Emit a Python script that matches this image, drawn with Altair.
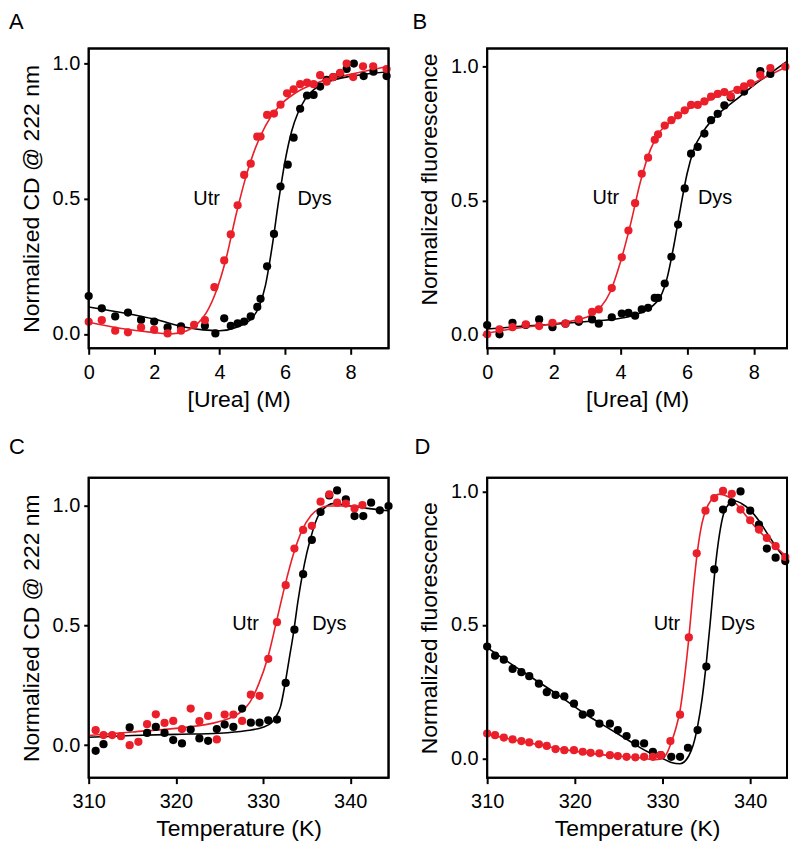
import altair as alt
import pandas as pd

# ---------------- Panel A : CD vs urea ----------------
A_dys_x = [0, 0.4, 0.81, 1.2, 1.6, 2.0, 2.41, 2.82, 3.55, 3.87, 4.14, 4.34, 4.55, 4.75, 4.95, 5.15, 5.25, 5.45,
           5.66, 5.86, 6.08, 6.26, 6.46, 6.67, 6.87, 7.07, 7.27, 7.47, 7.68, 7.88, 8.1, 8.4, 8.7, 9.1]
A_dys_y = [0.14, 0.095, 0.065, 0.079, 0.052, 0.046, 0.024, 0.028, 0.03, 0.002, 0.058, 0.03, 0.039, 0.046, 0.065,
           0.10, 0.13, 0.25, 0.37, 0.545, 0.626, 0.726, 0.833, 0.882, 0.884, 0.915, 0.94, 0.95, 0.963, 0.98, 1.0,
           0.954, 0.97, 0.954]
A_utr_x = [0, 0.4, 0.81, 1.2, 1.6, 2.0, 2.41, 2.82, 3.22, 3.55, 3.84, 4.14, 4.34, 4.55, 4.75, 4.95, 5.15, 5.25,
           5.45, 5.66, 5.86, 6.06, 6.26, 6.46, 6.67, 6.87, 7.07, 7.27, 7.47, 7.68, 7.88, 8.08, 8.38, 8.69, 9.1]
A_utr_y = [0.045, 0.051, 0.012, 0.006, 0.024, 0.016, 0.002, 0.012, 0.034, 0.051, 0.173, 0.272, 0.368, 0.476,
           0.588, 0.63, 0.73, 0.73, 0.81, 0.815, 0.848, 0.89, 0.905, 0.924, 0.93, 0.924, 0.957, 0.933, 0.95, 0.966,
           1.0, 0.95, 0.99, 0.99, 0.98]
A_dys_fit_x = [0, 2, 3, 3.5, 4.0, 4.5, 5.0, 5.2, 5.4, 5.6, 5.8, 6.0, 6.2, 6.4, 6.6, 7.0, 7.5, 8.0, 9.16]
A_dys_fit_y = [0.10, 0.055, 0.024, 0.015, 0.012, 0.024, 0.06, 0.10, 0.18, 0.32, 0.49, 0.64, 0.75, 0.82, 0.866,
               0.915, 0.94, 0.953, 0.97]
A_utr_fit_x = [0, 1, 2, 2.5, 3.0, 3.3, 3.6, 3.9, 4.2, 4.5, 4.8, 5.1, 5.4, 5.8, 6.3, 7.0, 8.0, 9.16]
A_utr_fit_y = [0.043, 0.02, 0.005, 0.0, 0.012, 0.035, 0.08, 0.16, 0.28, 0.44, 0.58, 0.69, 0.77, 0.84, 0.89, 0.93,
               0.96, 0.99]

# ---------------- Panel B : fluorescence vs urea ----------------
B_dys_x = [0, 0.37, 0.76, 1.16, 1.56, 1.96, 2.35, 2.75, 3.15, 3.35, 3.74, 4.04, 4.24, 4.44, 4.64, 4.83, 5.03,
           5.13, 5.33, 5.53, 5.73, 5.93, 6.12, 6.32, 6.52, 6.72, 6.92, 7.12, 7.31, 7.71, 8.2, 8.5]
B_dys_y = [0.035, 0.0, 0.043, 0.035, 0.056, 0.027, 0.04, 0.047, 0.056, 0.04, 0.064, 0.078, 0.08, 0.07, 0.093,
           0.099, 0.136, 0.136, 0.19, 0.29, 0.41, 0.545, 0.675, 0.70, 0.75, 0.80, 0.824, 0.855, 0.885, 0.907, 0.983,
           0.973]
B_utr_x = [0, 0.37, 0.76, 1.16, 1.56, 1.96, 2.35, 2.75, 3.15, 3.35, 3.74, 4.04, 4.24, 4.44, 4.64, 4.83, 5.03,
           5.13, 5.33, 5.53, 5.73, 5.93, 6.12, 6.32, 6.52, 6.72, 6.92, 7.12, 7.31, 7.51, 7.71, 7.91, 8.2, 8.5, 8.95]
B_utr_y = [0.0, 0.019, 0.027, 0.037, 0.031, 0.043, 0.04, 0.056, 0.084, 0.093, 0.173, 0.288, 0.388, 0.49, 0.60,
           0.66, 0.727, 0.747, 0.78, 0.80, 0.818, 0.837, 0.857, 0.857, 0.87, 0.888, 0.898, 0.905, 0.89, 0.913,
           0.926, 0.938, 0.969, 0.995, 1.0]
B_dys_fit_x = [0, 1, 2, 3, 4, 4.5, 5.0, 5.2, 5.4, 5.6, 5.8, 6.0, 6.2, 6.5, 7.0, 7.5, 8.0, 8.5, 9.0]
B_dys_fit_y = [0.02, 0.03, 0.038, 0.048, 0.06, 0.075, 0.11, 0.14, 0.21, 0.33, 0.47, 0.60, 0.69, 0.76, 0.83, 0.88,
               0.93, 0.975, 1.02]
B_utr_fit_x = [0, 1, 2, 3, 3.4, 3.7, 4.0, 4.3, 4.6, 4.9, 5.2, 5.6, 6.0, 6.5, 7.0, 7.5, 8.0, 8.5, 9.0]
B_utr_fit_y = [0.005, 0.025, 0.04, 0.065, 0.10, 0.16, 0.27, 0.41, 0.57, 0.69, 0.76, 0.80, 0.84, 0.865, 0.895,
               0.915, 0.94, 0.97, 1.0]

# ---------------- Panel C : CD vs temperature ----------------
C_dys_x = [310.8, 311.7, 314.7, 316.7, 317.7, 318.7, 319.7, 320.7, 321.7, 322.7, 323.7, 324.7, 325.6, 326.6,
           327.6, 328.6, 329.6, 330.6, 331.6, 332.6, 333.6, 334.6, 335.6, 336.6, 337.6, 338.5, 339.5, 340.5,
           341.5, 342.4, 343.4, 344.4]
C_dys_y = [-0.024, 0.004, 0.074, 0.051, 0.076, 0.051, 0.021, 0.007, 0.065, 0.028, 0.018, 0.067, 0.086, 0.076,
           0.153, 0.094, 0.094, 0.104, 0.107, 0.26, 0.483, 0.715, 0.858, 0.975, 1.044, 1.065, 1.028, 0.958, 0.958,
           1.014, 0.982, 1.0]
C_utr_x = [310.8, 311.7, 312.7, 313.7, 314.7, 315.7, 316.7, 317.7, 318.7, 319.7, 320.7, 321.7, 322.7, 323.7,
           324.7, 325.6, 326.6, 327.6, 328.6, 329.6, 330.6, 331.6, 332.6, 333.6, 334.6, 335.6, 336.6, 337.6,
           338.5, 339.5, 340.5, 341.4]
C_utr_y = [0.0625, 0.042, 0.042, 0.0375, 0.0, 0.014, 0.0875, 0.129, 0.093, 0.101, 0.067, 0.153, 0.1, 0.122,
           0.024, 0.128, 0.128, 0.101, 0.211, 0.206, 0.361, 0.514, 0.669, 0.822, 0.9, 0.917, 1.018, 1.049, 1.014,
           1.01, 0.99, 1.004]
C_dys_fit_x = [310, 315, 320, 325, 328, 330, 331, 331.5, 332, 332.5, 333, 333.5, 334, 334.5, 335, 335.5, 336,
               336.5, 337, 338, 340, 342, 344.4]
C_dys_fit_y = [0.033, 0.04, 0.045, 0.05, 0.06, 0.075, 0.095, 0.12, 0.16, 0.25, 0.36, 0.47, 0.6, 0.71, 0.8, 0.87,
               0.93, 0.97, 0.99, 1.01, 1.0, 0.99, 0.98]
C_utr_fit_x = [310, 315, 320, 324, 326, 327.5, 328.5, 329.5, 330.5, 331.5, 332.5, 333.5, 334.5, 335.5, 336.5,
               337.5, 339, 341.4]
C_utr_fit_y = [0.04, 0.055, 0.07, 0.09, 0.11, 0.14, 0.18, 0.255, 0.36, 0.51, 0.665, 0.8, 0.9, 0.96, 0.99, 1.0,
               1.0, 1.0]

# ---------------- Panel D : fluorescence vs temperature ----------------
D_dys_x = [310, 310.9, 311.9, 312.9, 313.9, 314.8, 315.9, 316.8, 317.8, 318.8, 319.9, 320.9, 321.8, 322.8, 324.0,
           324.9, 325.9, 326.9, 327.9, 328.9, 329.8, 331.0, 332.0, 332.9, 334.0, 335.0, 335.9, 336.9, 337.9,
           338.9, 340.0, 341.0, 341.9, 342.9, 344.0]
D_dys_y = [0.419, 0.385, 0.37, 0.335, 0.323, 0.308, 0.28, 0.248, 0.238, 0.232, 0.205, 0.164, 0.17, 0.13, 0.13,
           0.106, 0.084, 0.056, 0.056, 0.025, 0.012, 0.006, 0.006, 0.04, 0.106, 0.344, 0.708, 0.932, 0.959, 1.0,
           0.928, 0.876, 0.786, 0.752, 0.739]
D_utr_x = [310, 310.9, 311.9, 312.9, 313.9, 314.8, 315.9, 316.8, 317.8, 318.8, 319.9, 320.9, 321.8, 322.8, 324.0,
           324.9, 325.9, 326.9, 327.9, 328.9, 329.8, 330.9, 332.0, 333.0, 333.9, 334.9, 335.9, 336.9, 337.9,
           338.9, 340.0, 341.0, 341.9, 342.9, 344.0]
D_utr_y = [0.093, 0.087, 0.078, 0.071, 0.065, 0.06, 0.053, 0.047, 0.035, 0.031, 0.031, 0.025, 0.021, 0.019, 0.012,
           0.009, 0.006, 0.004, 0.006, 0.006, 0.012, 0.065, 0.164, 0.453, 0.768, 0.928, 0.975, 1.002, 0.991,
           0.932, 0.892, 0.857, 0.826, 0.795, 0.754]
D_dys_fit_x = [310, 312, 315, 318, 321, 324, 326, 328, 330, 331, 332, 333, 333.5, 334, 334.5, 335, 335.5, 336,
               336.5, 337, 337.5, 338.2, 339, 340, 341, 342, 343, 344.2]
D_dys_fit_y = [0.415, 0.37, 0.305, 0.24, 0.17, 0.11, 0.07, 0.03, 0.0, -0.015, -0.02, 0.01, 0.05, 0.12, 0.22, 0.36,
               0.53, 0.71, 0.84, 0.92, 0.95, 0.965, 0.955, 0.93, 0.89, 0.84, 0.79, 0.74]
D_utr_fit_x = [310, 313, 316, 319, 322, 325, 328, 329, 330, 330.5, 331, 331.5, 332, 332.5, 333, 333.5, 334, 334.5,
               335, 335.5, 336.5, 337.5, 338.5, 339.5, 340.5, 342, 344.2]
D_utr_fit_y = [0.09, 0.07, 0.05, 0.032, 0.018, 0.008, 0.0, -0.005, 0.0, 0.02, 0.06, 0.11, 0.18, 0.3, 0.45, 0.63,
               0.78, 0.88, 0.935, 0.965, 0.99, 0.98, 0.95, 0.91, 0.87, 0.82, 0.755]

# annotation positions (data coords)
labels_A = {"Utr": (3.6, 0.5), "Dys": (6.9, 0.5)}
labels_B = {"Utr": (3.56, 0.51), "Dys": (6.84, 0.51)}
labels_C = {"Utr": (328.0, 0.507), "Dys": (337.6, 0.507)}
labels_D = {"Utr": (330.5, 0.503), "Dys": (338.6, 0.503)}

RED = "#EA1F29"
BLACK = "#000000"
FONT = "Liberation Sans"
W = H = 301


def series_df(dx, dy, ux, uy):
    return pd.DataFrame({
        "x": list(dx) + list(ux),
        "y": list(dy) + list(uy),
        "s": ["Dys"] * len(dx) + ["Utr"] * len(ux),
    })


def panel(pts, fit, labels, letter, letter_xy, xdom, ydom, xticks, xtitle, ytitle, title_y=None):
    color = alt.Color("s:N", scale=alt.Scale(domain=["Dys", "Utr"], range=[BLACK, RED]), legend=None)
    yaxis_kw = dict(values=[0, 0.5, 1.0], format=".1f", title=ytitle)
    if title_y is not None:
        yaxis_kw["titleY"] = title_y
    xs = alt.Scale(domain=xdom, nice=False, zero=False)
    ys = alt.Scale(domain=ydom, nice=False, zero=False)
    x = alt.X("x:Q", scale=xs, axis=alt.Axis(values=xticks, format="d", title=xtitle))
    y = alt.Y("y:Q", scale=ys, axis=alt.Axis(**yaxis_kw))
    # plot frame: rectangle spanning the full scale domains
    frame = alt.Chart(pd.DataFrame({"k": [0]})).mark_rect(
        fill="transparent", stroke=BLACK, strokeWidth=2).encode(
        x=alt.datum(xdom[0]), x2=alt.datum(xdom[1]), y=alt.datum(ydom[0]), y2=alt.datum(ydom[1]))
    lines = alt.Chart(fit).mark_line(strokeWidth=1.6, interpolate="monotone").encode(
        x=x, y=y, color=color, detail="s:N")
    points = alt.Chart(pts).mark_circle(size=68, opacity=1).encode(x=x, y=y, color=color)
    lab_df = pd.DataFrame({"t": list(labels.keys()),
                           "x": [v[0] for v in labels.values()],
                           "y": [v[1] for v in labels.values()]})
    ann = alt.Chart(lab_df).mark_text(fontSize=20, font=FONT, color=BLACK, align="center",
                                      baseline="middle").encode(x="x:Q", y="y:Q", text="t:N")
    let = alt.Chart(pd.DataFrame({"t": [letter]})).mark_text(
        fontSize=22, font=FONT, color=BLACK, align="left", baseline="top").encode(
        x=alt.value(letter_xy[0]), y=alt.value(letter_xy[1]), text="t:N")
    return alt.layer(lines, points, frame, ann, let).properties(width=W, height=H)


pA = panel(series_df(A_dys_x, A_dys_y, A_utr_x, A_utr_y),
           series_df(A_dys_fit_x, A_dys_fit_y, A_utr_fit_x, A_utr_fit_y),
           labels_A, "A", (-80, -37), [0, 9.16], [-0.053, 1.056], [0, 2, 4, 6, 8],
           "[Urea] (M)", "Normalized CD @ 222 nm")
pB = panel(series_df(B_dys_x, B_dys_y, B_utr_x, B_utr_y),
           series_df(B_dys_fit_x, B_dys_fit_y, B_utr_fit_x, B_utr_fit_y),
           labels_B, "B", (-75, -37), [0, 9.0], [-0.052, 1.068], [0, 2, 4, 6, 8],
           "[Urea] (M)", "Normalized fluorescence", title_y=131)
pC = panel(series_df(C_dys_x, C_dys_y, C_utr_x, C_utr_y),
           series_df(C_dys_fit_x, C_dys_fit_y, C_utr_fit_x, C_utr_fit_y),
           labels_C, "C", (-80, -41), [310, 344.4], [-0.136, 1.118], [310, 320, 330, 340],
           "Temperature (K)", "Normalized CD @ 222 nm")
pD = panel(series_df(D_dys_x, D_dys_y, D_utr_x, D_utr_y),
           series_df(D_dys_fit_x, D_dys_fit_y, D_utr_fit_x, D_utr_fit_y),
           labels_D, "D", (-73, -41), [310, 344.2], [-0.072, 1.051], [310, 320, 330, 340],
           "Temperature (K)", "Normalized fluorescence")

chart = alt.concat(pA, pB, pC, pD, columns=2, spacing={"row": 23, "column": 17}).properties(
    padding=0
).configure_view(stroke=BLACK, strokeWidth=2).configure_axis(
    labelFont=FONT, titleFont=FONT, labelFontSize=20, titleFontSize=23, titleFontWeight="normal",
    labelColor=BLACK, titleColor=BLACK, tickColor=BLACK, tickWidth=2, domain=False,
    grid=False, labelFlush=False, labelOverlap=False
).configure_axisX(tickSize=6, labelPadding=8, titlePadding=6).configure_axisY(
    tickSize=5, labelPadding=4, titlePadding=9)

chart.save("out.html", embed_options={"renderer": "svg", "actions": False})
